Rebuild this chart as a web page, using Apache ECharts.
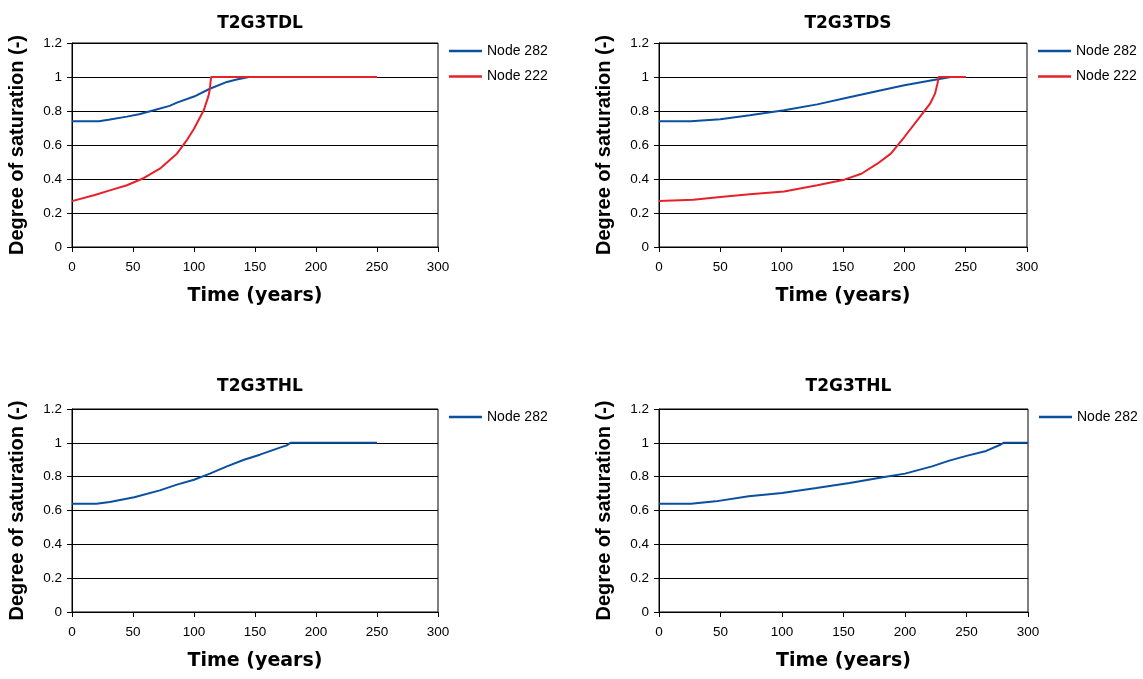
<!DOCTYPE html>
<html>
<head>
<meta charset="utf-8">
<script src="https://cdn.jsdelivr.net/npm/echarts@6/dist/echarts.min.js"></script>
<style>
  html, body { margin: 0; padding: 0; background: #fff; }
  #chart { width: 1143px; height: 679px; }
</style>
</head>
<body>
<div id="chart"></div>
<script>
// Degree of saturation vs time for four runs
const panelTitles = ['T2G3TDL', 'T2G3TDS', 'T2G3THL', 'T2G3THL'];
const xTicks = { min: 0, max: 300, interval: 50 };
const yTicks = { min: 0, max: 1.2, interval: 0.2 };

// T2G3TDL
const tdlTime282 = [0, 22, 30, 45, 55, 67, 80, 86, 100, 113, 127, 135, 143, 145, 250];
const tdlSat282  = [0.74, 0.74, 0.748, 0.767, 0.781, 0.804, 0.83, 0.849, 0.885, 0.931, 0.971, 0.985, 0.997, 1.0, 1.0];
const tdlTime222 = [0, 18, 31, 45, 59, 72, 86, 94, 100, 108, 112, 113, 114, 250];
const tdlSat222  = [0.27, 0.304, 0.333, 0.363, 0.406, 0.461, 0.549, 0.627, 0.696, 0.804, 0.892, 0.93, 1.0, 1.0];

// T2G3TDS
const tdsTime282 = [0, 26, 50, 74, 102, 129, 156, 184, 200, 225, 238, 250];
const tdsSat282  = [0.74, 0.74, 0.751, 0.775, 0.804, 0.839, 0.882, 0.927, 0.951, 0.984, 1.0, 1.0];
const tdsTime222 = [0, 28, 50, 74, 102, 129, 151, 165, 178, 189, 200, 211, 221, 225, 227, 228, 250];
const tdsSat222  = [0.27, 0.278, 0.294, 0.31, 0.327, 0.363, 0.396, 0.431, 0.49, 0.549, 0.647, 0.749, 0.843, 0.902, 0.961, 1.0, 1.0];

// T2G3THL (first)
const thlATime282 = [0, 20, 31, 51, 72, 86, 100, 113, 127, 141, 154, 171, 176, 179, 250];
const thlASat282  = [0.64, 0.64, 0.65, 0.678, 0.719, 0.753, 0.782, 0.818, 0.861, 0.9, 0.93, 0.973, 0.985, 1.0, 1.0];

// T2G3THL (second)
const thlBTime282 = [0, 26, 46, 73, 100, 128, 155, 182, 200, 222, 236, 250, 266, 277, 280, 300];
const thlBSat282  = [0.64, 0.64, 0.654, 0.684, 0.703, 0.733, 0.763, 0.796, 0.818, 0.861, 0.895, 0.923, 0.952, 0.987, 1.0, 1.0];

const BLUE = '#0A4FA0';
const RED = '#E8202A';

const pair = (t, v) => t.map((x, i) => [x, v[i]]);

// plot-area rectangles for the 2x2 layout
const grids = [
  { left: 72,  top: 43,  width: 366, height: 204 },
  { left: 659, top: 43,  width: 368, height: 204 },
  { left: 72,  top: 409, width: 366, height: 203 },
  { left: 659, top: 409, width: 369, height: 203 }
];

const panelSeries = [
  [{ name: 'Node 282', t: tdlTime282, v: tdlSat282, c: BLUE }, { name: 'Node 222', t: tdlTime222, v: tdlSat222, c: RED }],
  [{ name: 'Node 282', t: tdsTime282, v: tdsSat282, c: BLUE }, { name: 'Node 222', t: tdsTime222, v: tdsSat222, c: RED }],
  [{ name: 'Node 282', t: thlATime282, v: thlASat282, c: BLUE }],
  [{ name: 'Node 282', t: thlBTime282, v: thlBSat282, c: BLUE }]
];

const tickFont = { fontFamily: 'Liberation Sans', fontSize: 13.5, color: '#000' };

const option = {
  backgroundColor: '#fff',
  animation: false,
  title: grids.map((g, i) => ({
    text: panelTitles[i],
    left: g.left + g.width / 2,
    top: g.top - (i < 2 ? 33 : 36),
    textAlign: 'center',
    textStyle: { fontFamily: 'DejaVu Sans', fontWeight: 'bold', fontSize: 17, color: '#000' }
  })),
  legend: grids.map((g, i) => ({
    orient: 'vertical',
    left: g.left + g.width + 11,
    top: g.top + 1,
    padding: 0,
    itemWidth: 33,
    itemHeight: 2.5,
    itemGap: 11.5,
    icon: 'rect',
    selectedMode: false,
    data: panelSeries[i].map(s => s.name),
    textStyle: { fontFamily: 'Liberation Sans', fontSize: 14, color: '#000' }
  })),
  grid: grids.map(g => Object.assign({ show: true, borderColor: '#000', borderWidth: 1, backgroundColor: '#fff' }, g)),
  xAxis: grids.map((g, i) => ({
    gridIndex: i,
    type: 'value',
    min: xTicks.min, max: xTicks.max, interval: xTicks.interval,
    name: 'Time (years)',
    nameLocation: 'middle',
    nameGap: 40,
    nameTextStyle: { fontFamily: 'DejaVu Sans', fontWeight: 'bold', fontSize: 19, color: '#000' },
    axisLine: { lineStyle: { color: '#000', width: 1 } },
    axisTick: { show: true, inside: false, length: 5, lineStyle: { color: '#000' } },
    axisLabel: Object.assign({ margin: 13 }, tickFont),
    splitLine: { show: false }
  })),
  yAxis: grids.map((g, i) => ({
    gridIndex: i,
    type: 'value',
    min: yTicks.min, max: yTicks.max, interval: yTicks.interval,
    name: 'Degree of saturation (-)',
    nameLocation: 'middle',
    nameGap: 45,
    nameTextStyle: { fontFamily: 'Liberation Sans', fontWeight: 'bold', fontSize: 20, color: '#000' },
    axisLine: { show: true, lineStyle: { color: '#000', width: 1 } },
    axisTick: { show: true, inside: false, length: 5, lineStyle: { color: '#000' } },
    axisLabel: Object.assign({ margin: 10 }, tickFont),
    splitLine: { show: true, lineStyle: { color: '#000', width: 1 } }
  })),
  series: []
};

panelSeries.forEach((list, i) => {
  list.forEach(s => {
    option.series.push({
      name: s.name,
      type: 'line',
      xAxisIndex: i,
      yAxisIndex: i,
      data: pair(s.t, s.v),
      showSymbol: false,
      symbol: 'none',
      lineStyle: { color: s.c, width: 2 },
      itemStyle: { color: s.c }
    });
  });
});

const chart = echarts.init(document.getElementById('chart'), null, { renderer: 'canvas' });
chart.setOption(option);
</script>
</body>
</html>
